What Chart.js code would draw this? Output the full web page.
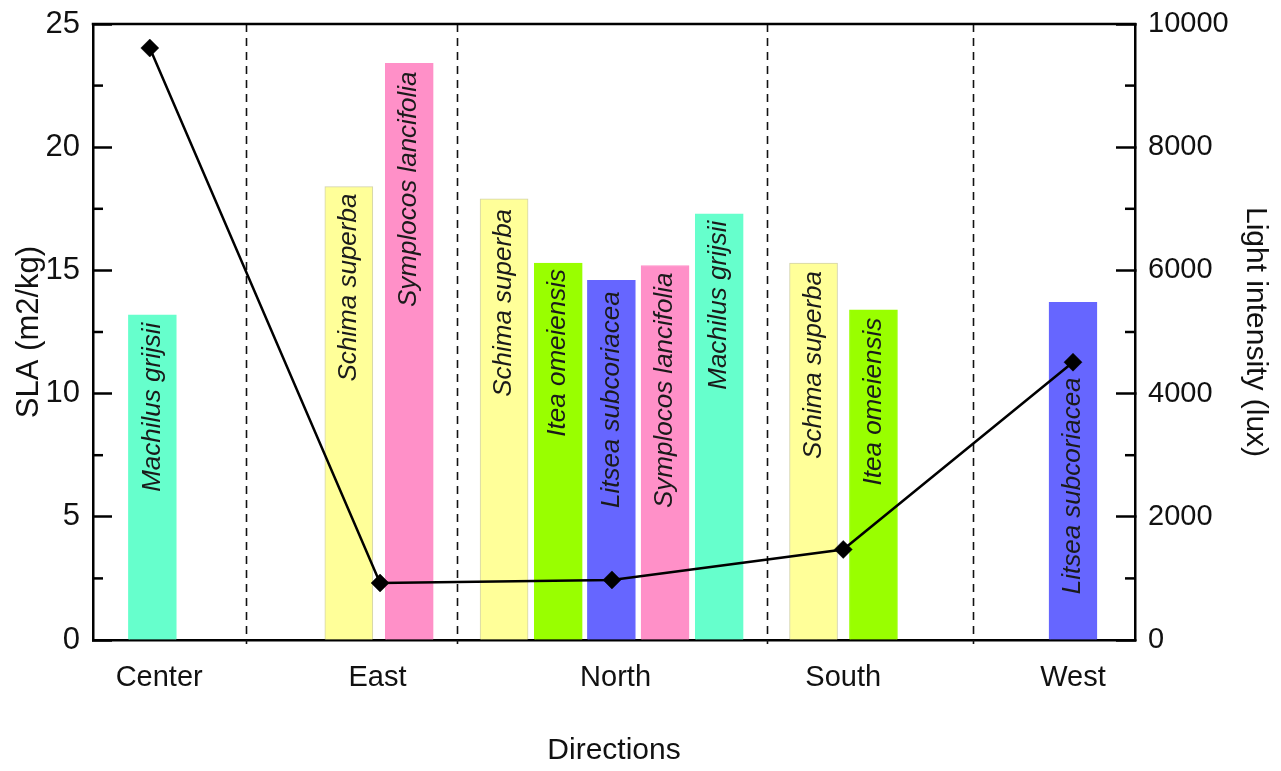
<!DOCTYPE html>
<html>
<head>
<meta charset="utf-8">
<title>SLA and light intensity by direction</title>
<script src="https://cdn.jsdelivr.net/npm/chart.js@4.4.1/dist/chart.umd.min.js"></script>
<style>
  html, body { margin: 0; padding: 0; background: #ffffff; }
  #wrap { width: 1281px; height: 771px; }
</style>
</head>
<body>
<div id="wrap"><canvas id="chart" width="1281" height="771"></canvas></div>
<script>
// Species sampled in each direction, with their specific leaf area (m2/kg)
const barSpecies = [
  'Machilus grijsii',
  'Schima superba', 'Symplocos lancifolia',
  'Schima superba', 'Itea omeiensis', 'Litsea subcoriacea', 'Symplocos lancifolia', 'Machilus grijsii',
  'Schima superba', 'Itea omeiensis',
  'Litsea subcoriacea'
];
const barPos = [1.14, 4.91, 6.07, 7.89, 8.93, 9.95, 10.98, 12.02, 13.83, 14.98, 18.81];
const slaValues = [13.2, 18.4, 23.4, 17.9, 15.3, 14.6, 15.2, 17.3, 15.3, 13.4, 13.7];

// Direction groups along the x axis
const directions = ['Center', 'East', 'North', 'South', 'West'];
const directionPos = [1.27, 5.46, 10.03, 14.40, 18.81];
const dividerPos = [2.94, 6.99, 12.94, 16.89];

// Light intensity (lux) measured in each direction
const lightPos = [1.09, 5.51, 9.96, 14.40, 18.81];
const lightValues = [9610, 925, 975, 1470, 4510];

// Axis ticks
const slaTicks = [0, 5, 10, 15, 20, 25];
const luxTicks = [0, 2000, 4000, 6000, 8000, 10000];

const speciesColor = {
  'Schima superba': '#FFFF99',
  'Symplocos lancifolia': '#FF90C8',
  'Itea omeiensis': '#99FF00',
  'Litsea subcoriacea': '#6666FF',
  'Machilus grijsii': '#66FFCC'
};

const FONT = "'Liberation Sans', Arial, Helvetica, sans-serif";
const INK = '#111111';

// Per-bar distance of the species label from the bar top (px)
const labelInset = [8, 7, 8, 10, 6, 11, 7, 7, 8, 8, 75];

// Vertical axes: fixed width, no extra room reserved above/below for labels
const fixWidth = w => scale => {
  scale.width = w;
  scale.paddingTop = 0;
  scale.paddingBottom = 0;
};

const frameAndDividers = {
  id: 'frameAndDividers',
  beforeDatasetsDraw(chart) {
    const { ctx, chartArea, scales } = chart;
    ctx.save();
    ctx.strokeStyle = '#111111';
    ctx.lineWidth = 1.6;
    ctx.setLineDash([8, 6]);
    dividerPos.forEach(v => {
      const x = Math.round(scales.x.getPixelForValue(v)) + 0.5;
      ctx.beginPath();
      ctx.moveTo(x, chartArea.top);
      ctx.lineTo(x, chartArea.bottom + 4);
      ctx.stroke();
    });
    ctx.restore();
  },
  afterDraw(chart) {
    const { ctx, chartArea, scales } = chart;
    ctx.save();
    ctx.strokeStyle = '#000000';
    ctx.lineWidth = 2.5;
    // top edge of the frame
    ctx.beginPath();
    ctx.moveTo(chartArea.left - 1.25, chartArea.top);
    ctx.lineTo(chartArea.right + 1.25, chartArea.top);
    ctx.stroke();
    // minor ticks, half way between the major ones
    const minor = (scale, step, x0, dir) => {
      for (let v = scale.min + step / 2; v < scale.max; v += step) {
        const y = scale.getPixelForValue(v);
        ctx.beginPath();
        ctx.moveTo(x0, y);
        ctx.lineTo(x0 + dir * 10, y);
        ctx.stroke();
      }
    };
    minor(scales.y, 5, chartArea.left, 1);
    minor(scales.y1, 2000, chartArea.right, -1);
    ctx.restore();
  }
};

const barLabels = {
  id: 'barLabels',
  afterDatasetDraw(chart, args) {
    if (args.index !== 0) return;
    const { ctx } = chart;
    const meta = chart.getDatasetMeta(0);
    ctx.save();
    ctx.font = 'italic 26px ' + FONT;
    ctx.fillStyle = '#1a1a1a';
    ctx.textAlign = 'right';
    ctx.textBaseline = 'middle';
    meta.data.forEach((bar, i) => {
      ctx.save();
      ctx.translate(bar.x, bar.y + labelInset[i]);
      ctx.rotate(-Math.PI / 2);
      ctx.fillText(barSpecies[i], 0, 0);
      ctx.restore();
    });
    ctx.restore();
  }
};

new Chart(document.getElementById('chart'), {
  type: 'bar',
  data: {
    datasets: [
      {
        type: 'bar',
        label: 'SLA',
        yAxisID: 'y',
        order: 2,
        data: barPos.map((x, i) => ({ x: x, y: slaValues[i] })),
        backgroundColor: barSpecies.map(s => speciesColor[s]),
        borderColor: barSpecies.map(s => s === 'Schima superba' ? 'rgba(200,200,150,0.8)' : speciesColor[s]),
        borderWidth: 1,
        barThickness: 48
      },
      {
        type: 'line',
        label: 'Light intensity',
        yAxisID: 'y1',
        order: 1,
        data: lightPos.map((x, i) => ({ x: x, y: lightValues[i] })),
        borderColor: '#000000',
        borderWidth: 2.5,
        tension: 0,
        pointStyle: 'rectRot',
        pointRadius: 9,
        pointBackgroundColor: '#000000',
        pointBorderColor: '#000000',
        pointBorderWidth: 0.5
      }
    ]
  },
  options: {
    responsive: false,
    animation: false,
    devicePixelRatio: 1,
    layout: { autoPadding: false, padding: { top: 24, left: 0, right: 0, bottom: 0 } },
    plugins: {
      legend: { display: false },
      tooltip: { enabled: false }
    },
    scales: {
      x: {
        type: 'linear',
        position: 'bottom',
        offset: false,
        min: 0,
        max: 20,
        afterFit(scale) { scale.height = 131; scale.paddingLeft = 0; scale.paddingRight = 0; },
        afterBuildTicks(scale) { scale.ticks = directionPos.map(v => ({ value: v })); },
        grid: { display: false, offset: false },
        border: { display: true, color: '#000000', width: 2.5 },
        ticks: {
          autoSkip: false,
          maxRotation: 0,
          padding: 13,
          color: INK,
          font: { family: FONT, size: 29 },
          callback: (value, index) => directions[index]
        },
        title: {
          display: true,
          text: 'Directions',
          color: INK,
          font: { family: FONT, size: 30 },
          padding: { top: 0, bottom: 2 }
        }
      },
      y: {
        type: 'linear',
        position: 'left',
        min: 0,
        max: 25,
        afterFit: fixWidth(93),
        afterBuildTicks(scale) { scale.ticks = slaTicks.map(v => ({ value: v })); },
        grid: { drawOnChartArea: false, tickLength: -19, tickWidth: 2.5, tickColor: '#000000' },
        border: { display: true, color: '#000000', width: 2.5 },
        ticks: {
          padding: 32,
          color: INK,
          font: { family: FONT, size: 31 }
        },
        title: {
          display: true,
          text: 'SLA (m2/kg)',
          color: INK,
          font: { family: FONT, size: 31 },
          padding: { top: 11, bottom: 0 }
        }
      },
      y1: {
        type: 'linear',
        position: 'right',
        min: 0,
        max: 10000,
        afterFit: fixWidth(146),
        afterBuildTicks(scale) { scale.ticks = luxTicks.map(v => ({ value: v })); },
        grid: { drawOnChartArea: false, tickLength: -19, tickWidth: 2.5, tickColor: '#000000' },
        border: { display: true, color: '#000000', width: 2.5 },
        ticks: {
          padding: 32,
          color: INK,
          font: { family: FONT, size: 29 },
          callback: value => String(value)
        },
        title: {
          display: true,
          text: 'Light intensity (lux)',
          color: INK,
          font: { family: FONT, size: 30 },
          padding: { top: 8, bottom: 0 }
        }
      }
    }
  },
  plugins: [frameAndDividers, barLabels]
});
</script>
</body>
</html>
